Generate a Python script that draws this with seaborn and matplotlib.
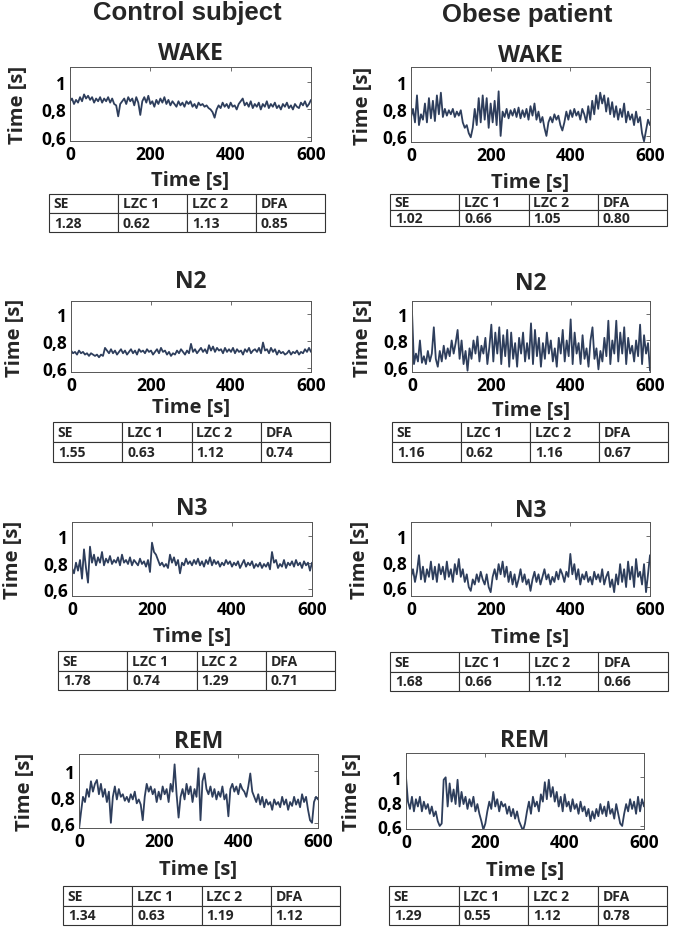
import numpy as np
import pandas as pd
import matplotlib
matplotlib.use("Agg")
import matplotlib.pyplot as plt
import seaborn as sns

# ---------------- data (RR-interval traces, 5 s steps) ----------------
control_wake = [0.86, 0.88, 0.84, 0.87, 0.85, 0.89, 0.86, 0.91, 0.88, 0.90,
                0.87, 0.89, 0.85, 0.88, 0.86, 0.89, 0.85, 0.88, 0.86, 0.89,
                0.85, 0.88, 0.84, 0.83, 0.75, 0.84, 0.86, 0.88, 0.84, 0.89,
                0.86, 0.88, 0.83, 0.89, 0.85, 0.76, 0.86, 0.89, 0.85, 0.90,
                0.84, 0.86, 0.82, 0.87, 0.84, 0.88, 0.85, 0.89, 0.84, 0.87,
                0.83, 0.86, 0.84, 0.82, 0.86, 0.83, 0.85, 0.82, 0.86, 0.84,
                0.86, 0.82, 0.84, 0.81, 0.85, 0.83, 0.84, 0.82, 0.83, 0.81,
                0.80, 0.78, 0.74, 0.80, 0.83, 0.81, 0.85, 0.82, 0.84, 0.81,
                0.85, 0.82, 0.83, 0.80, 0.84, 0.86, 0.88, 0.83, 0.85, 0.82,
                0.86, 0.81, 0.84, 0.82, 0.85, 0.80, 0.84, 0.82, 0.86, 0.81,
                0.84, 0.82, 0.85, 0.81, 0.83, 0.80, 0.84, 0.82, 0.85, 0.81,
                0.83, 0.80, 0.84, 0.82, 0.81, 0.85, 0.83, 0.86, 0.82, 0.84,
                0.87]
obese_wake = [0.74, 0.80, 0.70, 0.90, 0.68, 0.76, 0.72, 0.84, 0.70, 0.88,
              0.73, 0.86, 0.71, 0.90, 0.76, 0.92, 0.74, 0.80, 0.75, 0.79,
              0.76, 0.80, 0.74, 0.78, 0.75, 0.79, 0.70, 0.66, 0.68, 0.62,
              0.59, 0.66, 0.80, 0.68, 0.88, 0.70, 0.90, 0.72, 0.88, 0.66,
              0.84, 0.70, 0.86, 0.68, 0.93, 0.60, 0.78, 0.74, 0.80, 0.73,
              0.79, 0.75, 0.80, 0.74, 0.81, 0.73, 0.79, 0.74, 0.80, 0.72,
              0.82, 0.75, 0.84, 0.72, 0.78, 0.70, 0.74, 0.66, 0.60, 0.70,
              0.74, 0.70, 0.76, 0.72, 0.75, 0.68, 0.64, 0.70, 0.78, 0.72,
              0.79, 0.74, 0.80, 0.75, 0.78, 0.72, 0.80, 0.76, 0.70, 0.82,
              0.72, 0.86, 0.76, 0.90, 0.80, 0.92, 0.84, 0.90, 0.78, 0.88,
              0.76, 0.85, 0.74, 0.82, 0.72, 0.80, 0.74, 0.84, 0.70, 0.78,
              0.72, 0.76, 0.68, 0.78, 0.70, 0.74, 0.62, 0.56, 0.64, 0.72,
              0.68]
control_n2 = [0.73, 0.71, 0.72, 0.70, 0.73, 0.71, 0.72, 0.70, 0.71, 0.69,
              0.71, 0.70, 0.69, 0.70, 0.68, 0.70, 0.69, 0.75, 0.73, 0.71,
              0.74, 0.71, 0.73, 0.70, 0.72, 0.74, 0.71, 0.73, 0.70, 0.72,
              0.74, 0.71, 0.73, 0.70, 0.74, 0.72, 0.73, 0.71, 0.74, 0.72,
              0.73, 0.70, 0.72, 0.74, 0.71, 0.75, 0.72, 0.73, 0.70, 0.72,
              0.69, 0.71, 0.70, 0.73, 0.71, 0.74, 0.72, 0.70, 0.73, 0.71,
              0.78, 0.72, 0.74, 0.71, 0.73, 0.75, 0.72, 0.74, 0.71, 0.77,
              0.73, 0.76, 0.72, 0.75, 0.73, 0.74, 0.71, 0.75, 0.72, 0.74,
              0.72, 0.75, 0.71, 0.74, 0.72, 0.73, 0.70, 0.74, 0.72, 0.75,
              0.71, 0.73, 0.74, 0.72, 0.75, 0.71, 0.79, 0.73, 0.74, 0.71,
              0.75, 0.72, 0.74, 0.70, 0.73, 0.71, 0.72, 0.70, 0.71, 0.73,
              0.70, 0.72, 0.71, 0.73, 0.70, 0.72, 0.71, 0.74, 0.72, 0.75,
              0.72]
obese_n2 = [1.02, 0.62, 0.70, 0.64, 0.80, 0.63, 0.68, 0.62, 0.72, 0.64,
            0.70, 0.90, 0.66, 0.60, 0.72, 0.64, 0.76, 0.66, 0.74, 0.68,
            0.80, 0.70, 0.78, 0.88, 0.66, 0.80, 0.62, 0.72, 0.57, 0.74,
            0.66, 0.80, 0.70, 0.83, 0.64, 0.76, 0.70, 0.82, 0.62, 0.75,
            0.92, 0.64, 0.86, 0.70, 0.90, 0.62, 0.84, 0.68, 0.88, 0.60,
            0.86, 0.66, 0.78, 0.60, 0.82, 0.70, 0.86, 0.64, 0.78, 0.66,
            0.93, 0.62, 0.88, 0.68, 0.82, 0.60, 0.78, 0.66, 0.86, 0.70,
            0.80, 0.64, 0.74, 0.60, 0.82, 0.70, 0.88, 0.64, 0.80, 0.68,
            0.96, 0.62, 0.86, 0.70, 0.78, 0.62, 0.84, 0.66, 0.74, 0.60,
            0.80, 0.90, 0.66, 0.74, 0.58, 0.72, 0.64, 0.82, 0.68, 0.95,
            0.62, 0.80, 0.70, 0.95, 0.64, 0.86, 0.70, 0.90, 0.62, 0.82,
            0.70, 0.76, 0.64, 0.80, 0.68, 0.92, 0.62, 0.84, 0.70, 0.78,
            0.57]
control_n3 = [0.76, 0.72, 0.80, 0.74, 0.82, 0.68, 0.90, 0.76, 0.65, 0.92,
              0.80, 0.86, 0.78, 0.84, 0.80, 0.88, 0.78, 0.83, 0.80, 0.85,
              0.79, 0.82, 0.80, 0.84, 0.78, 0.86, 0.80, 0.82, 0.79, 0.84,
              0.78, 0.82, 0.80, 0.78, 0.83, 0.79, 0.81, 0.77, 0.82, 0.73,
              0.95, 0.88, 0.86, 0.82, 0.78, 0.80, 0.77, 0.79, 0.76, 0.86,
              0.80, 0.84, 0.78, 0.82, 0.72, 0.80, 0.78, 0.83, 0.79, 0.81,
              0.78, 0.82, 0.79, 0.83, 0.78, 0.81, 0.77, 0.82, 0.79, 0.84,
              0.78, 0.82, 0.79, 0.81, 0.77, 0.80, 0.78, 0.82, 0.79, 0.81,
              0.77, 0.80, 0.78, 0.81, 0.76, 0.79, 0.82, 0.77, 0.80, 0.78,
              0.81, 0.76, 0.79, 0.77, 0.80, 0.76, 0.79, 0.77, 0.80, 0.75,
              0.88, 0.80, 0.82, 0.76, 0.79, 0.77, 0.82, 0.76, 0.80, 0.78,
              0.81, 0.77, 0.82, 0.78, 0.80, 0.76, 0.81, 0.78, 0.80, 0.74,
              0.80]
obese_n3 = [0.68, 0.74, 0.64, 0.72, 0.85, 0.66, 0.76, 0.64, 0.74, 0.68,
            0.80, 0.66, 0.76, 0.64, 0.78, 0.70, 0.76, 0.66, 0.80, 0.68,
            0.74, 0.64, 0.78, 0.70, 0.82, 0.68, 0.74, 0.64, 0.70, 0.60,
            0.57, 0.66, 0.62, 0.70, 0.64, 0.72, 0.66, 0.62, 0.70, 0.60,
            0.56, 0.68, 0.74, 0.66, 0.78, 0.70, 0.80, 0.68, 0.76, 0.64,
            0.72, 0.62, 0.70, 0.60, 0.66, 0.74, 0.64, 0.70, 0.62, 0.66,
            0.57, 0.66, 0.72, 0.64, 0.70, 0.62, 0.68, 0.74, 0.66, 0.70,
            0.62, 0.68, 0.64, 0.72, 0.66, 0.74, 0.70, 0.64, 0.72, 0.68,
            0.86, 0.70, 0.78, 0.66, 0.74, 0.62, 0.70, 0.66, 0.72, 0.64,
            0.68, 0.62, 0.72, 0.66, 0.70, 0.64, 0.74, 0.62, 0.68, 0.72,
            0.60, 0.66, 0.56, 0.70, 0.62, 0.78, 0.64, 0.74, 0.60, 0.80,
            0.66, 0.76, 0.60, 0.82, 0.68, 0.72, 0.62, 0.78, 0.56, 0.70,
            0.85]
control_rem = [0.55, 0.68, 0.80, 0.76, 0.86, 0.80, 0.92, 0.84, 0.90, 0.93,
               0.82, 0.90, 0.80, 0.86, 0.76, 0.84, 0.60, 0.80, 0.88, 0.78,
               0.86, 0.80, 0.82, 0.77, 0.80, 0.76, 0.82, 0.78, 0.84, 0.75,
               0.78, 0.74, 0.62, 0.80, 0.90, 0.84, 0.88, 0.82, 0.86, 0.76,
               0.84, 0.78, 0.88, 0.82, 0.86, 0.76, 0.90, 0.84, 1.05, 0.82,
               0.64, 0.80, 0.86, 0.78, 0.90, 0.82, 0.88, 0.76, 0.86, 0.80,
               1.02, 0.62, 0.92, 0.98, 0.86, 0.82, 0.88, 0.80, 0.86, 0.78,
               0.84, 0.80, 0.88, 0.78, 0.82, 0.65, 0.86, 0.90, 0.84, 0.88,
               0.82, 0.90, 0.86, 0.84, 0.80, 0.88, 0.98, 0.84, 0.80, 0.76,
               0.82, 0.74, 0.80, 0.72, 0.78, 0.74, 0.76, 0.70, 0.78, 0.74,
               0.76, 0.72, 0.80, 0.74, 0.78, 0.70, 0.76, 0.73, 0.80, 0.74,
               0.78, 0.72, 0.82, 0.76, 0.80, 0.70, 0.62, 0.60, 0.76, 0.80,
               0.78]
obese_rem = [1.00, 0.80, 0.74, 0.84, 0.72, 0.82, 0.76, 0.84, 0.72, 0.80,
             0.74, 0.78, 0.70, 0.76, 0.68, 0.72, 0.64, 0.60, 0.62, 0.98,
             1.00, 0.76, 0.95, 0.80, 0.90, 0.78, 0.98, 0.76, 0.88, 0.78,
             0.84, 0.74, 0.82, 0.76, 0.84, 0.72, 0.78, 0.70, 0.64, 0.57,
             0.62, 0.72, 0.80, 0.74, 0.88, 0.76, 0.82, 0.72, 0.80, 0.76,
             0.78, 0.70, 0.76, 0.68, 0.74, 0.66, 0.72, 0.64, 0.60, 0.56,
             0.62, 0.72, 0.80, 0.70, 0.84, 0.76, 0.80, 0.72, 0.86, 0.80,
             0.96, 0.82, 0.98, 0.84, 0.92, 0.80, 0.88, 0.76, 0.84, 0.72,
             0.86, 0.76, 0.80, 0.72, 0.82, 0.74, 0.78, 0.70, 0.80, 0.72,
             0.76, 0.68, 0.74, 0.64, 0.72, 0.66, 0.74, 0.68, 0.78, 0.70,
             0.76, 0.68, 0.80, 0.70, 0.74, 0.66, 0.78, 0.70, 0.62, 0.60,
             0.70, 0.78, 0.72, 0.82, 0.74, 0.80, 0.70, 0.84, 0.72, 0.82,
             0.76]

groups = ["Control subject", "Obese patient"]
stages = ["WAKE", "N2", "N3", "REM"]
metric_names = ["SE", "LZC 1", "LZC 2", "DFA"]
control_metrics = [[1.28, 0.62, 1.13, 0.85], [1.55, 0.63, 1.12, 0.74],
                   [1.78, 0.74, 1.29, 0.71], [1.34, 0.63, 1.19, 1.12]]
obese_metrics = [[1.02, 0.66, 1.05, 0.80], [1.16, 0.62, 1.16, 0.67],
                 [1.68, 0.66, 1.12, 0.66], [1.29, 0.55, 1.12, 0.78]]
x_ticks = [0, 200, 400, 600]
y_ticks = [0.6, 0.8, 1.0]

series = {0: [control_wake, control_n2, control_n3, control_rem],
          1: [obese_wake, obese_n2, obese_n3, obese_rem]}
metrics = {0: control_metrics, 1: obese_metrics}

# ---------------- layout (pixels) ----------------
W, H = 675, 929
axes_px = {(0, 0): (70, 68, 311, 142), (1, 0): (411, 68, 650, 143),
           (0, 1): (71, 302, 311, 373), (1, 1): (412, 302, 650, 373),
           (0, 2): (72, 523, 312, 597), (1, 2): (411, 523, 650, 597),
           (0, 3): (79, 755, 318, 829), (1, 3): (406, 754, 644, 830)}
ylims = {(0, 0): (0.57, 1.11), (1, 0): (0.555, 1.11), (0, 1): (0.57, 1.10),
         (1, 1): (0.56, 1.10), (0, 2): (0.55, 1.105), (1, 2): (0.53, 1.11),
         (0, 3): (0.56, 1.13), (1, 3): (0.575, 1.2)}
title_base = {(0, 0): 60, (1, 0): 62, (0, 1): 288, (1, 1): 290,
              (0, 2): 515, (1, 2): 517, (0, 3): 748, (1, 3): 747}
xlabel_base = {(0, 0): 186, (1, 0): 188, (0, 1): 413, (1, 1): 416,
               (0, 2): 642, (1, 2): 643, (0, 3): 875, (1, 3): 876}
ylabel_x = {(0, 0): 18, (1, 0): 363, (0, 1): 15, (1, 1): 363,
            (0, 2): 13, (1, 2): 360, (0, 3): 25, (1, 3): 352}
table_px = {(0, 0): (49, 195, 325, 233), (1, 0): (390, 195, 667, 227),
            (0, 1): (53, 423, 330, 463), (1, 1): (392, 423, 668, 463),
            (0, 2): (58, 652, 335, 691), (1, 2): (390, 653, 668, 692),
            (0, 3): (63, 887, 340, 926), (1, 3): (389, 887, 667, 926)}
header_pos = {0: (187, 20), 1: (527, 22)}

LINE = "#2e3e5c"
SPINE = "#555555"
FONT = ["Open Sans", "DejaVu Sans"]

sns.set_theme(style="white")
plt.rcParams["font.family"] = FONT
plt.rcParams["font.weight"] = "bold"
plt.rcParams["axes.labelweight"] = "bold"
plt.rcParams["axes.titleweight"] = "bold"

fig = plt.figure(figsize=(W / 100, H / 100), dpi=100)
fig.patch.set_facecolor("white")


def fx(px):
    return px / W


def fy(py):
    return 1 - py / H


def ytick_fmt(v, pos=None):
    if abs(v - 1.0) < 1e-9:
        return "1"
    return f"{v:.1f}".replace(".", ",")


for col in (0, 1):
    hx, hy = header_pos[col]
    fig.text(fx(hx), fy(hy), groups[col], ha="center", va="baseline",
             fontsize=18.5, fontweight="bold", family=["Liberation Sans", "DejaVu Sans"])
    for row, stage in enumerate(stages):
        key = (col, row)
        l, t, r, b = axes_px[key]
        ax = fig.add_axes([fx(l), fy(b), fx(r) - fx(l), fy(t) - fy(b)])
        vals = series[col][row]
        df = pd.DataFrame({"t": np.linspace(0, 600, len(vals)), "rr": vals})
        sns.lineplot(data=df, x="t", y="rr", ax=ax, color=LINE, lw=1.3,
                     errorbar=None, estimator=None)
        ax.set_xlim(0, 600)
        ax.set_ylim(*ylims[key])
        ax.set_xticks(x_ticks)
        ax.set_yticks(y_ticks)
        ax.yaxis.set_major_formatter(matplotlib.ticker.FuncFormatter(ytick_fmt))
        ax.tick_params(direction="in", length=3, width=0.6, color=SPINE,
                       top=True, right=True, labelsize=12.5, pad=3,
                       labelcolor="black")
        for lab in ax.get_xticklabels() + ax.get_yticklabels():
            lab.set_fontweight("bold")
        for s in ax.spines.values():
            s.set_color(SPINE)
            s.set_linewidth(0.7)
            s.set_visible(True)
        ax.set_title(stage, fontsize=16.5, fontweight="bold", pad=0,
                     y=(b - title_base[key]) / (b - t), va="baseline")
        ax.set_xlabel("Time [s]", fontsize=14.5, fontweight="bold", va="baseline")
        ax.xaxis.set_label_coords(fx((l + r) / 2), fy(xlabel_base[key]),
                                  transform=fig.transFigure)
        ax.set_ylabel("Time [s]", fontsize=14.5, fontweight="bold", va="center", ha="center")
        ax.yaxis.set_label_coords(fx(ylabel_x[key]), fy((t + b) / 2),
                                  transform=fig.transFigure)

        tl, tt, tr, tb = table_px[key]
        tax = fig.add_axes([fx(tl), fy(tb), fx(tr) - fx(tl), fy(tt) - fy(tb)])
        tax.axis("off")
        cell_text = [metric_names, [f"{v:.2f}" for v in metrics[col][row]]]
        tbl = tax.table(cellText=cell_text, cellLoc="left", bbox=[0, 0, 1, 1])
        tbl.auto_set_font_size(False)
        tbl.set_fontsize(10)
        for cell in tbl.get_celld().values():
            cell.set_linewidth(0.8)
            cell.set_edgecolor("#333333")
            cell.PAD = 0.07
            cell.get_text().set_fontweight("bold")

fig.savefig("out.png", dpi=100, facecolor="white")
